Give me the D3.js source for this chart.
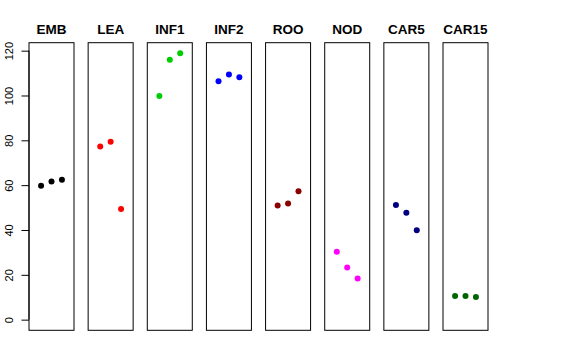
<!DOCTYPE html>
<html><head><meta charset="utf-8">
<script src="https://cdn.jsdelivr.net/npm/d3@7"></script>
<style>body{margin:0;background:#fff}svg{display:block}</style>
</head><body>
<script>
const categories = ["EMB","LEA","INF1","INF2","ROO","NOD","CAR5","CAR15"];
const colors = ["#000000","#FF0000","#00CD00","#0000FF","#8B0000","#FF00FF","#000080","#006400"];
const EMB = [59.7, 61.6, 62.4];
const LEA = [77.2, 79.4, 49.4];
const INF1 = [99.8, 115.9, 118.8];
const INF2 = [106.4, 109.4, 108.1];
const ROO = [50.9, 51.8, 57.3];
const NOD = [30.3, 23.3, 18.4];
const CAR5 = [51.2, 47.7, 39.9];
const CAR15 = [10.5, 10.5, 10.1];
const seriesValues = [EMB, LEA, INF1, INF2, ROO, NOD, CAR5, CAR15];
const yTicks = [0, 20, 40, 60, 80, 100, 120];

(function () {
const W = 576, H = 360;
const svg = d3.select("body").append("svg").attr("width", W).attr("height", H);

const plotTop = 42.7, plotBottom = 330.3;
const yMax = 118.8, ext = yMax * 0.04;
const y = d3.scaleLinear().domain([-ext, yMax + ext]).range([plotBottom, plotTop]);

const panelLeft = d3.scaleLinear().domain([0, 7]).range([29, 443]);
const panelW = 45;
const font = "Liberation Sans, Arial, Helvetica, sans-serif";

categories.forEach((cat, i) => {
  const x0 = panelLeft(i);
  const x = d3.scaleLinear().domain([-0.16, 4.16]).range([x0, x0 + panelW]);
  const g = svg.append("g");
  g.selectAll("circle").data(seriesValues[i]).join("circle")
    .attr("cx", (d, j) => x(j + 1))
    .attr("cy", d => y(d))
    .attr("r", 3)
    .attr("fill", colors[i]);
  g.append("rect")
    .attr("x", x0).attr("y", plotTop).attr("width", panelW).attr("height", plotBottom - plotTop)
    .attr("fill", "none").attr("stroke", "#000").attr("stroke-width", 1);
  g.append("text")
    .attr("x", x0 + panelW / 2).attr("y", 34)
    .attr("text-anchor", "middle")
    .attr("font-family", font).attr("font-weight", "bold").attr("font-size", 13.5)
    .text(cat);
});

// y axis
const axis = d3.axisLeft(y).tickValues(yTicks).tickSize(7.5).tickPadding(0).tickFormat(d3.format("d"));
const ag = svg.append("g").attr("transform", "translate(29,0)").call(axis);
ag.select(".domain").attr("d", `M0,${y(0)}V${y(120)}`).attr("stroke", "#000");
ag.selectAll(".tick line").attr("stroke", "#000");
ag.selectAll(".tick text").remove();
ag.selectAll(".tick").append("text")
  .attr("transform", "translate(-16.5,0) rotate(-90)")
  .attr("text-anchor", "middle")
  .attr("fill", "#000")
  .attr("font-family", font).attr("font-size", 11)
  .text(d => d);
})();
</script>
</body></html>
